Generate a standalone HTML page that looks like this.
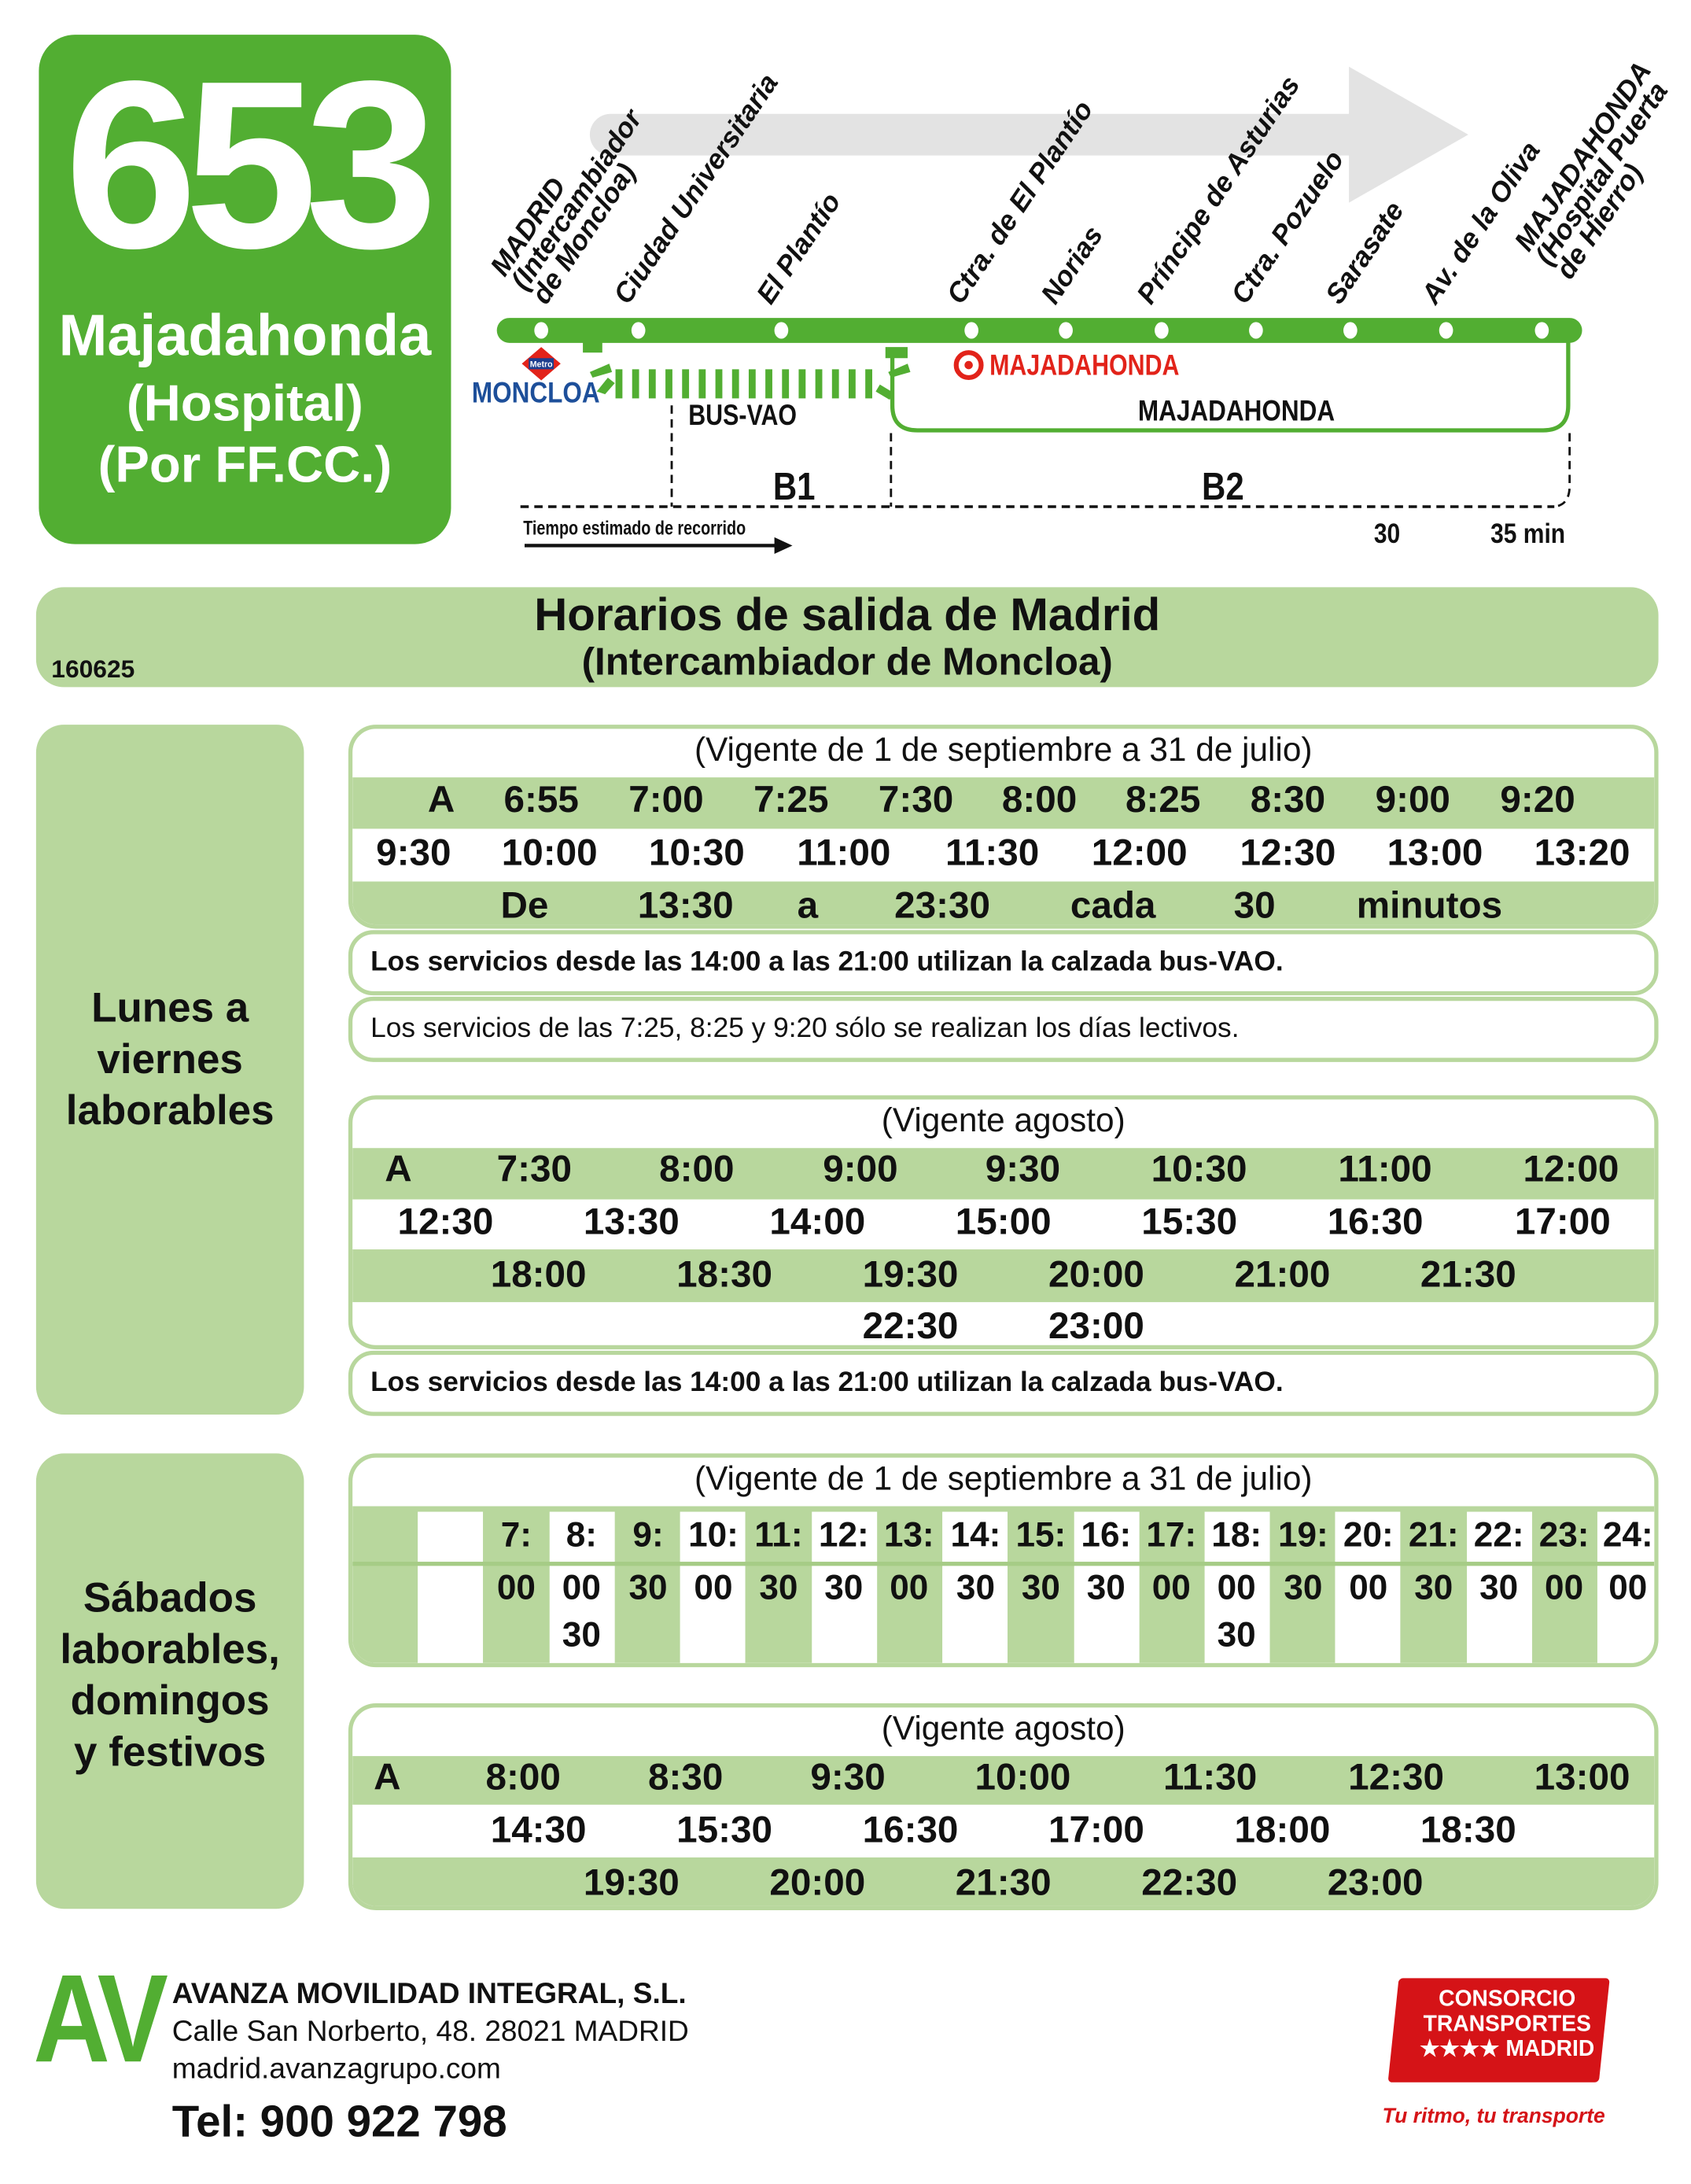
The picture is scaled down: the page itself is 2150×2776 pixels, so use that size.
<!DOCTYPE html>
<html><head><meta charset="utf-8">
<style>
*{margin:0;padding:0;box-sizing:border-box}
html,body{width:2150px;height:2772px;overflow:hidden;background:#fff}
#w{position:absolute;left:0;top:0;width:1220px;height:1573px;transform:scale(1.7645);transform-origin:0 0;font-family:"Liberation Sans",Arial,sans-serif;color:#111}
.a{position:absolute}
.t{position:absolute;transform:translateX(-50%);white-space:nowrap;font-weight:bold;font-size:27px;line-height:1}
.box{position:absolute;border:3px solid #b8d79d;border-radius:20px;background:#fff;overflow:hidden}
.row{position:absolute;left:0;right:0}
.g{background:#b8d79d}
.hd{position:absolute;left:0;right:0;text-align:center;font-size:24px;line-height:1}
.note{position:absolute;border:3px solid #b8d79d;border-radius:18px;background:#fff;font-size:20px;padding-left:13px;line-height:40px;white-space:nowrap}
.lbl{position:absolute;transform-origin:0 100%;transform:rotate(-56deg);font-style:italic;font-weight:bold;font-size:20px;line-height:18px;white-space:nowrap}
.side{position:absolute;left:26px;width:193px;background:#b8d79d;border-radius:20px;text-align:center;font-weight:bold;font-size:30px;line-height:37px}
.col{position:absolute;top:0;bottom:0;width:47.2px}
</style></head><body><div id="w">

<div class="a" style="left:28px;top:25px;width:297px;height:367px;background:#52ae32;border-radius:26px;color:#fff;text-align:center">
  <div style="position:absolute;left:0;right:0;top:8px;font-size:172px;font-weight:bold;letter-spacing:-9px;line-height:1">653</div>
  <div style="position:absolute;left:0;right:0;top:194px;font-size:42px;font-weight:bold;line-height:46px">Majadahonda</div>
  <div style="position:absolute;left:0;right:0;top:244px;font-size:37px;font-weight:bold;line-height:44px">(Hospital)<br>(Por FF.CC.)</div>
</div>

<svg class="a" style="left:0;top:0" width="1220" height="420">
  <path d="M440 82 H972 V48 L1058 97 L972 146 V112 H440 A15 15 0 0 1 440 82Z" fill="#e3e3e3"/>
  <rect x="358" y="229" width="782" height="18" rx="9" fill="#52ae32"/>
  <g fill="#fff">
    <ellipse cx="390" cy="238" rx="5" ry="6"/><ellipse cx="460" cy="238" rx="5" ry="6"/><ellipse cx="563" cy="238" rx="5" ry="6"/>
    <ellipse cx="700" cy="238" rx="5" ry="6"/><ellipse cx="768" cy="238" rx="5" ry="6"/><ellipse cx="837" cy="238" rx="5" ry="6"/>
    <ellipse cx="905" cy="238" rx="5" ry="6"/><ellipse cx="973" cy="238" rx="5" ry="6"/><ellipse cx="1042" cy="238" rx="5" ry="6"/><ellipse cx="1111" cy="238" rx="5" ry="6"/>
  </g>
  <rect x="420" y="246" width="14" height="8" fill="#52ae32"/>
  <rect x="638" y="250" width="16" height="8" fill="#52ae32"/>
  <g fill="#52ae32">
    <path d="M425 268 l14 -6 l2 6 l-14 4z"/><path d="M430 282 l8 -10 l5 4 l-7 8z"/>
    <path d="M640 268 l14 -6 l2 6 l-14 4z"/><path d="M634 277 l10 6 l-3 5 l-10 -6z"/>
  </g>
  <g stroke="#52ae32" stroke-width="5">
    <path d="M446 266 V287 M458 266 V287 M470 266 V287 M482 266 V287 M494 266 V287 M506 266 V287 M518 266 V287 M530 266 V287 M542 266 V287 M554 266 V287 M566 266 V287 M578 266 V287 M590 266 V287 M602 266 V287 M614 266 V287 M626 266 V287"/>
  </g>
  <path d="M643 252 V292 Q643 310 661 310 H1112 Q1130 310 1130 292 V246" fill="none" stroke="#52ae32" stroke-width="3"/>
  <g stroke="#111" stroke-width="1.6" stroke-dasharray="6 4" fill="none">
    <path d="M484 292 V365"/><path d="M642 312 V365"/>
    <path d="M1131 312 V350 Q1131 365 1118 365"/>
    <path d="M375 365 H1120" stroke-width="2"/>
  </g>
  <path d="M378 393 H560" stroke="#111" stroke-width="2.5"/><path d="M558 387 L571 393 L558 399Z" fill="#111"/>
  <path d="M390 250 L404 262 L390 274 L376 262Z" fill="#e2231a"/><rect x="381" y="258" width="18" height="8" fill="#1d3f8f"/>
  <text x="390" y="264.5" font-size="6" fill="#fff" text-anchor="middle" font-family="Liberation Sans" font-weight="bold">Metro</text>
  <circle cx="698" cy="263" r="9" fill="none" stroke="#e2231a" stroke-width="3.5"/>
  <circle cx="698" cy="263" r="3" fill="#e2231a"/>
</svg>
<div class="a" style="left:340px;top:272px;font-size:21px;font-weight:bold;color:#1d4f9a;transform:scaleX(.85);transform-origin:0 0">MONCLOA</div>
<div class="a" style="left:713px;top:252px;font-size:21px;font-weight:bold;color:#e2231a;transform:scaleX(.82);transform-origin:0 0">MAJADAHONDA</div>
<div class="a" style="left:820px;top:285px;font-size:21px;font-weight:bold;transform:scaleX(.85);transform-origin:0 0">MAJADAHONDA</div>
<div class="a" style="left:496px;top:288px;font-size:21px;font-weight:bold;transform:scaleX(.82);transform-origin:0 0">BUS-VAO</div>
<div class="a" style="left:557px;top:335px;font-size:28px;font-weight:bold;transform:scaleX(.85);transform-origin:0 0">B1</div>
<div class="a" style="left:866px;top:335px;font-size:28px;font-weight:bold;transform:scaleX(.85);transform-origin:0 0">B2</div>
<div class="a" style="left:377px;top:372px;font-size:14px;font-weight:bold;transform:scaleX(.8);transform-origin:0 0">Tiempo estimado de recorrido</div>
<div class="a" style="left:990px;top:374px;font-size:20px;font-weight:bold;transform:scaleX(.85);transform-origin:0 0">30</div>
<div class="a" style="left:1074px;top:374px;font-size:20px;font-weight:bold;transform:scaleX(.85);transform-origin:0 0">35 min</div>

<div class="lbl" style="left:396px;top:168px">MADRID<br>(Intercambiador<br>de Moncloa)</div>
<div class="lbl" style="left:455px;top:204px">Ciudad Universitaria</div>
<div class="lbl" style="left:558px;top:204px">El Plantío</div>
<div class="lbl" style="left:695px;top:204px">Ctra. de El Plantío</div>
<div class="lbl" style="left:763px;top:204px">Norias</div>
<div class="lbl" style="left:832px;top:204px">Príncipe de Asturias</div>
<div class="lbl" style="left:900px;top:204px">Ctra. Pozuelo</div>
<div class="lbl" style="left:968px;top:204px">Sarasate</div>
<div class="lbl" style="left:1037px;top:204px">Av. de la Oliva</div>
<div class="lbl" style="left:1134px;top:150px">MAJADAHONDA<br>(Hospital Puerta<br>de Hierro)</div>

<div class="a" style="left:26px;top:423px;width:1169px;height:72px;background:#b8d79d;border-radius:20px">
  <div style="position:absolute;left:0;right:0;top:2px;text-align:center;font-weight:bold;font-size:33px;line-height:36px">Horarios de salida de Madrid</div>
  <div style="position:absolute;left:0;right:0;top:38px;text-align:center;font-weight:bold;font-size:28px;line-height:32px">(Intercambiador de Moncloa)</div>
  <div style="position:absolute;left:11px;top:49px;font-weight:bold;font-size:18px">160625</div>
</div>

<div class="side" style="top:522px;height:497px;padding-top:186px">Lunes a<br>viernes<br>laborables</div>
<div class="side" style="top:1047px;height:328px;padding-top:86px">Sábados<br>laborables,<br>domingos<br>y festivos</div>

<div class="box" style="left:251px;top:522px;width:944px;height:147px">
  <div class="hd" style="top:4px">(Vigente de 1 de septiembre a 31 de julio)</div>
  <div class="row g" style="top:35px;height:37px"></div>
  <div class="row g" style="top:110px;height:40px"></div>
</div>
<div class="t" style="left:318px;top:563px">A</div><div class="t" style="left:390px;top:563px">6:55</div><div class="t" style="left:480px;top:563px">7:00</div><div class="t" style="left:570px;top:563px">7:25</div><div class="t" style="left:660px;top:563px">7:30</div><div class="t" style="left:749px;top:563px">8:00</div><div class="t" style="left:838px;top:563px">8:25</div><div class="t" style="left:928px;top:563px">8:30</div><div class="t" style="left:1018px;top:563px">9:00</div><div class="t" style="left:1108px;top:563px">9:20</div>
<div class="t" style="left:298px;top:601px">9:30</div><div class="t" style="left:396px;top:601px">10:00</div><div class="t" style="left:502px;top:601px">10:30</div><div class="t" style="left:608px;top:601px">11:00</div><div class="t" style="left:715px;top:601px">11:30</div><div class="t" style="left:821px;top:601px">12:00</div><div class="t" style="left:928px;top:601px">12:30</div><div class="t" style="left:1034px;top:601px">13:00</div><div class="t" style="left:1140px;top:601px">13:20</div>
<div class="t" style="left:378px;top:639px">De</div><div class="t" style="left:494px;top:639px">13:30</div><div class="t" style="left:582px;top:639px">a</div><div class="t" style="left:679px;top:639px">23:30</div><div class="t" style="left:802px;top:639px">cada</div><div class="t" style="left:904px;top:639px">30</div><div class="t" style="left:1030px;top:639px">minutos</div>
<div class="note" style="left:251px;top:670px;width:944px;height:47px;font-weight:bold">Los servicios desde las 14:00 a las 21:00 utilizan la calzada bus-VAO.</div>
<div class="note" style="left:251px;top:718px;width:944px;height:47px">Los servicios de las 7:25, 8:25 y 9:20 sólo se realizan los días lectivos.</div>

<div class="box" style="left:251px;top:789px;width:944px;height:183px">
  <div class="hd" style="top:4px">(Vigente agosto)</div>
  <div class="row g" style="top:35px;height:37px"></div>
  <div class="row g" style="top:108px;height:38px"></div>
</div>
<div class="t" style="left:287px;top:829px">A</div><div class="t" style="left:385px;top:829px">7:30</div><div class="t" style="left:502px;top:829px">8:00</div><div class="t" style="left:620px;top:829px">9:00</div><div class="t" style="left:737px;top:829px">9:30</div><div class="t" style="left:864px;top:829px">10:30</div><div class="t" style="left:998px;top:829px">11:00</div><div class="t" style="left:1132px;top:829px">12:00</div>
<div class="t" style="left:321px;top:867px">12:30</div><div class="t" style="left:455px;top:867px">13:30</div><div class="t" style="left:589px;top:867px">14:00</div><div class="t" style="left:723px;top:867px">15:00</div><div class="t" style="left:857px;top:867px">15:30</div><div class="t" style="left:991px;top:867px">16:30</div><div class="t" style="left:1126px;top:867px">17:00</div>
<div class="t" style="left:388px;top:905px">18:00</div><div class="t" style="left:522px;top:905px">18:30</div><div class="t" style="left:656px;top:905px">19:30</div><div class="t" style="left:790px;top:905px">20:00</div><div class="t" style="left:924px;top:905px">21:00</div><div class="t" style="left:1058px;top:905px">21:30</div>
<div class="t" style="left:656px;top:942px">22:30</div><div class="t" style="left:790px;top:942px">23:00</div>
<div class="note" style="left:251px;top:973px;width:944px;height:47px;font-weight:bold">Los servicios desde las 14:00 a las 21:00 utilizan la calzada bus-VAO.</div>

<div class="box" style="left:251px;top:1047px;width:944px;height:154px">
  <div class="hd" style="top:4px">(Vigente de 1 de septiembre a 31 de julio)</div>
  <div class="row g" style="top:35px;bottom:0">
    <div class="col" style="left:47px;background:#fff;top:4px"></div>
    <div class="col" style="left:142px;background:#fff;top:4px"></div>
    <div class="col" style="left:236px;background:#fff;top:4px"></div>
    <div class="col" style="left:331px;background:#fff;top:4px"></div>
    <div class="col" style="left:425px;background:#fff;top:4px"></div>
    <div class="col" style="left:520px;background:#fff;top:4px"></div>
    <div class="col" style="left:614px;background:#fff;top:4px"></div>
    <div class="col" style="left:708px;background:#fff;top:4px"></div>
    <div class="col" style="left:803px;background:#fff;top:4px"></div>
    <div class="col" style="left:897px;background:#fff;top:4px"></div>
    <div style="position:absolute;left:0;right:0;top:40px;height:3px;background:#a6cc86"></div>
  </div>
</div>

<div class="box" style="left:251px;top:1227px;width:944px;height:149px">
  <div class="hd" style="top:4px">(Vigente agosto)</div>
  <div class="row g" style="top:35px;height:35px"></div>
  <div class="row g" style="top:108px;height:40px"></div>
</div>
<div class="t" style="left:279px;top:1267px">A</div><div class="t" style="left:377px;top:1267px">8:00</div><div class="t" style="left:494px;top:1267px">8:30</div><div class="t" style="left:611px;top:1267px">9:30</div><div class="t" style="left:737px;top:1267px">10:00</div><div class="t" style="left:872px;top:1267px">11:30</div><div class="t" style="left:1006px;top:1267px">12:30</div><div class="t" style="left:1140px;top:1267px">13:00</div>
<div class="t" style="left:388px;top:1305px">14:30</div><div class="t" style="left:522px;top:1305px">15:30</div><div class="t" style="left:656px;top:1305px">16:30</div><div class="t" style="left:790px;top:1305px">17:00</div><div class="t" style="left:924px;top:1305px">18:00</div><div class="t" style="left:1058px;top:1305px">18:30</div>
<div class="t" style="left:455px;top:1343px">19:30</div><div class="t" style="left:589px;top:1343px">20:00</div><div class="t" style="left:723px;top:1343px">21:30</div><div class="t" style="left:857px;top:1343px">22:30</div><div class="t" style="left:991px;top:1343px">23:00</div>

<div class="a" style="left:24px;top:1410px;font-size:90px;font-weight:bold;color:#52ae32;line-height:1;letter-spacing:-4px;transform:scaleX(.85);transform-origin:0 0">AV</div>
<div class="a" style="left:124px;top:1425px;font-size:21px;font-weight:bold">AVANZA MOVILIDAD INTEGRAL, S.L.</div>
<div class="a" style="left:124px;top:1452px;font-size:21px">Calle San Norberto, 48. 28021 MADRID</div>
<div class="a" style="left:124px;top:1479px;font-size:21px">madrid.avanzagrupo.com</div>
<div class="a" style="left:124px;top:1510px;font-size:32px;font-weight:bold">Tel: 900 922 798</div>
<div class="a" style="left:1004px;top:1425px;width:152px;height:75px;background:#d51317;transform:skewX(-6deg);border-radius:3px"></div>
<div class="a" style="left:1010px;top:1432px;width:152px;text-align:center;color:#fff;font-weight:bold;font-size:16px;line-height:18px">CONSORCIO<br>TRANSPORTES<br>★★★★ MADRID</div>
<div class="a" style="left:996px;top:1516px;color:#d51317;font-weight:bold;font-style:italic;font-size:15px">Tu ritmo, tu transporte</div>

<div class="t" style="left:372px;top:1094px;font-size:25px">7:</div>
<div class="t" style="left:419px;top:1094px;font-size:25px">8:</div>
<div class="t" style="left:467px;top:1094px;font-size:25px">9:</div>
<div class="t" style="left:514px;top:1094px;font-size:25px">10:</div>
<div class="t" style="left:561px;top:1094px;font-size:25px">11:</div>
<div class="t" style="left:608px;top:1094px;font-size:25px">12:</div>
<div class="t" style="left:655px;top:1094px;font-size:25px">13:</div>
<div class="t" style="left:703px;top:1094px;font-size:25px">14:</div>
<div class="t" style="left:750px;top:1094px;font-size:25px">15:</div>
<div class="t" style="left:797px;top:1094px;font-size:25px">16:</div>
<div class="t" style="left:844px;top:1094px;font-size:25px">17:</div>
<div class="t" style="left:891px;top:1094px;font-size:25px">18:</div>
<div class="t" style="left:939px;top:1094px;font-size:25px">19:</div>
<div class="t" style="left:986px;top:1094px;font-size:25px">20:</div>
<div class="t" style="left:1033px;top:1094px;font-size:25px">21:</div>
<div class="t" style="left:1080px;top:1094px;font-size:25px">22:</div>
<div class="t" style="left:1127px;top:1094px;font-size:25px">23:</div>
<div class="t" style="left:1173px;top:1094px;font-size:25px">24:</div>
<div class="t" style="left:372px;top:1132px;font-size:25px">00</div>
<div class="t" style="left:419px;top:1132px;font-size:25px">00</div>
<div class="t" style="left:419px;top:1166px;font-size:25px">30</div>
<div class="t" style="left:467px;top:1132px;font-size:25px">30</div>
<div class="t" style="left:514px;top:1132px;font-size:25px">00</div>
<div class="t" style="left:561px;top:1132px;font-size:25px">30</div>
<div class="t" style="left:608px;top:1132px;font-size:25px">30</div>
<div class="t" style="left:655px;top:1132px;font-size:25px">00</div>
<div class="t" style="left:703px;top:1132px;font-size:25px">30</div>
<div class="t" style="left:750px;top:1132px;font-size:25px">30</div>
<div class="t" style="left:797px;top:1132px;font-size:25px">30</div>
<div class="t" style="left:844px;top:1132px;font-size:25px">00</div>
<div class="t" style="left:891px;top:1132px;font-size:25px">00</div>
<div class="t" style="left:891px;top:1166px;font-size:25px">30</div>
<div class="t" style="left:939px;top:1132px;font-size:25px">30</div>
<div class="t" style="left:986px;top:1132px;font-size:25px">00</div>
<div class="t" style="left:1033px;top:1132px;font-size:25px">30</div>
<div class="t" style="left:1080px;top:1132px;font-size:25px">30</div>
<div class="t" style="left:1127px;top:1132px;font-size:25px">00</div>
<div class="t" style="left:1173px;top:1132px;font-size:25px">00</div>
</div></body></html>
